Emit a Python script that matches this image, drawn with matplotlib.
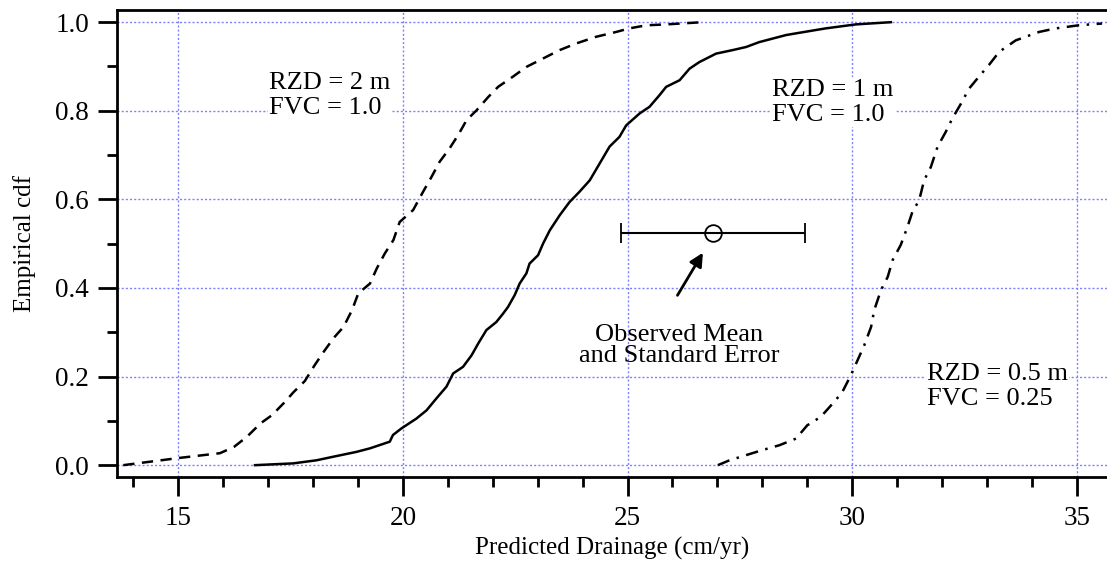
import matplotlib
matplotlib.use("Agg")
import matplotlib.pyplot as plt
from matplotlib.ticker import MultipleLocator

plt.rcParams['font.family'] = ['Liberation Serif', 'DejaVu Serif']

# RZD = 2 m, FVC = 1.0  (dashed)
x_rzd2 = [13.78, 15.0, 15.93, 16.24, 16.53, 16.83, 17.09, 17.35, 17.57, 17.82, 18.04, 18.24,
          18.46, 18.68, 18.87, 19.01, 19.27, 19.42, 19.6, 19.79, 19.93, 20.23, 20.45, 20.64,
          20.82, 21.04, 21.23, 21.42, 21.64, 21.9, 22.12, 22.45, 22.75, 23.12, 23.49, 23.86,
          24.3, 24.75, 25.04, 25.42, 25.86, 26.67]
F_rzd2 = [0.0, 0.016, 0.027, 0.041, 0.064, 0.094, 0.113, 0.14, 0.165, 0.19, 0.226, 0.256,
          0.287, 0.312, 0.35, 0.388, 0.41, 0.444, 0.478, 0.508, 0.549, 0.576, 0.617, 0.651,
          0.685, 0.715, 0.745, 0.779, 0.801, 0.831, 0.854, 0.877, 0.899, 0.918, 0.937, 0.952,
          0.967, 0.978, 0.986, 0.993, 0.995, 1.0]

# RZD = 1 m, FVC = 1.0  (solid)
x_rzd1 = [16.71, 17.56, 18.08, 18.45, 18.97, 19.27, 19.71, 19.78, 19.97, 20.3, 20.53, 20.75,
          20.97, 21.12, 21.34, 21.53, 21.68, 21.86, 22.08, 22.23, 22.34, 22.49, 22.6, 22.75,
          22.82, 23.01, 23.12, 23.27, 23.49, 23.71, 23.93, 24.16, 24.38, 24.6, 24.82, 24.97,
          25.27, 25.49, 25.71, 25.86, 26.16, 26.38, 26.6, 26.97, 27.34, 27.64, 27.93, 28.23,
          28.53, 28.82, 29.41, 30.08, 30.86]
F_rzd1 = [0.0, 0.004, 0.011, 0.019, 0.03, 0.038, 0.053, 0.068, 0.083, 0.105, 0.124, 0.151,
          0.177, 0.207, 0.222, 0.248, 0.275, 0.305, 0.323, 0.342, 0.357, 0.384, 0.41, 0.433,
          0.455, 0.474, 0.5, 0.53, 0.564, 0.594, 0.617, 0.643, 0.681, 0.719, 0.741, 0.767,
          0.794, 0.809, 0.835, 0.854, 0.869, 0.895, 0.91, 0.929, 0.937, 0.944, 0.955, 0.963,
          0.971, 0.976, 0.986, 0.995, 1.0]

# RZD = 0.5 m, FVC = 0.25  (dash-dot)
x_rzd05 = [27.01, 27.27, 28.0, 28.38, 28.75, 29.0, 29.3, 29.6, 29.78, 29.97, 30.12, 30.27,
           30.42, 30.49, 30.64, 30.79, 30.9, 31.08, 31.23, 31.34, 31.49, 31.6, 31.75, 31.9,
           32.08, 32.23, 32.42, 32.6, 32.82, 33.04, 33.27, 33.64, 34.16, 34.53, 35.04, 35.56]
F_rzd05 = [0.0, 0.011, 0.034, 0.045, 0.06, 0.09, 0.109, 0.143, 0.165, 0.203, 0.237, 0.271,
           0.312, 0.35, 0.395, 0.425, 0.463, 0.497, 0.538, 0.572, 0.598, 0.643, 0.673, 0.719,
           0.752, 0.783, 0.816, 0.85, 0.877, 0.903, 0.933, 0.959, 0.978, 0.986, 0.993, 0.997]

# observed drainage
obs_mean = 26.9
obs_se = 2.05
obs_F = 0.524

fig = plt.figure(figsize=(11.07, 5.68), dpi=100)
ax = fig.add_axes([0.1057, 0.160, 0.8943, 0.822])

ax.plot(x_rzd2, F_rzd2, color="k", lw=1.8, ls=(0, (4.5, 3)))
ax.plot(x_rzd1, F_rzd1, color="k", lw=1.8, ls="-")
ax.plot(x_rzd05, F_rzd05, color="k", lw=1.8, ls=(0, (5, 3, 1, 3)))

ax.errorbar([obs_mean], [obs_F], xerr=[obs_se], fmt="o", mfc="none", mec="k", mew=1.3,
            ms=12, ecolor="k", elinewidth=1.5, capsize=7, capthick=1.3, color="k", zorder=5)
ax.annotate("", xy=(26.71, 0.485), xytext=(26.08, 0.378),
            arrowprops=dict(arrowstyle="-|>", color="k", lw=2, mutation_scale=20))
ax.text(26.15, 0.271, "Observed Mean\nand Standard Error", ha="center", va="center",
        fontsize=19, linespacing=0.95)

box = dict(facecolor="white", edgecolor="none", pad=1)
ax.text(17.02, 0.835, "RZD = 2 m\nFVC = 1.0", ha="left", va="center", fontsize=19,
        linespacing=1.2, bbox=box)
ax.text(28.22, 0.819, "RZD = 1 m\nFVC = 1.0", ha="left", va="center", fontsize=19,
        linespacing=1.2, bbox=box)
ax.text(31.66, 0.177, "RZD = 0.5 m\nFVC = 0.25", ha="left", va="center", fontsize=19,
        linespacing=1.2, bbox=box)

ax.set_xlim(13.64, 35.67)
ax.set_ylim(-0.027, 1.027)
ax.xaxis.set_major_locator(MultipleLocator(5))
ax.xaxis.set_minor_locator(MultipleLocator(1))
ax.yaxis.set_major_locator(MultipleLocator(0.2))
ax.yaxis.set_minor_locator(MultipleLocator(0.1))
ax.yaxis.set_major_formatter(plt.FormatStrFormatter("%.1f"))

ax.grid(True, which="major", color=(0.5, 0.5, 1.0), ls=(0, (1.5, 1.5)), lw=1)
ax.set_axisbelow(True)

for s in ["left", "bottom", "top"]:
    ax.spines[s].set_linewidth(2)
ax.spines["right"].set_visible(False)
ax.tick_params(which="major", direction="out", length=14, width=2, labelsize=19.5)
ax.tick_params(axis="x", which="major", pad=7)
ax.tick_params(axis="y", which="major", pad=6)
ax.tick_params(which="minor", direction="out", length=7.5, width=2)

ax.set_xlabel("Predicted Drainage (cm/yr)", fontsize=18, labelpad=4)
ax.set_ylabel("Empirical cdf", fontsize=18, labelpad=14)

fig.savefig("out.png", dpi=100)
